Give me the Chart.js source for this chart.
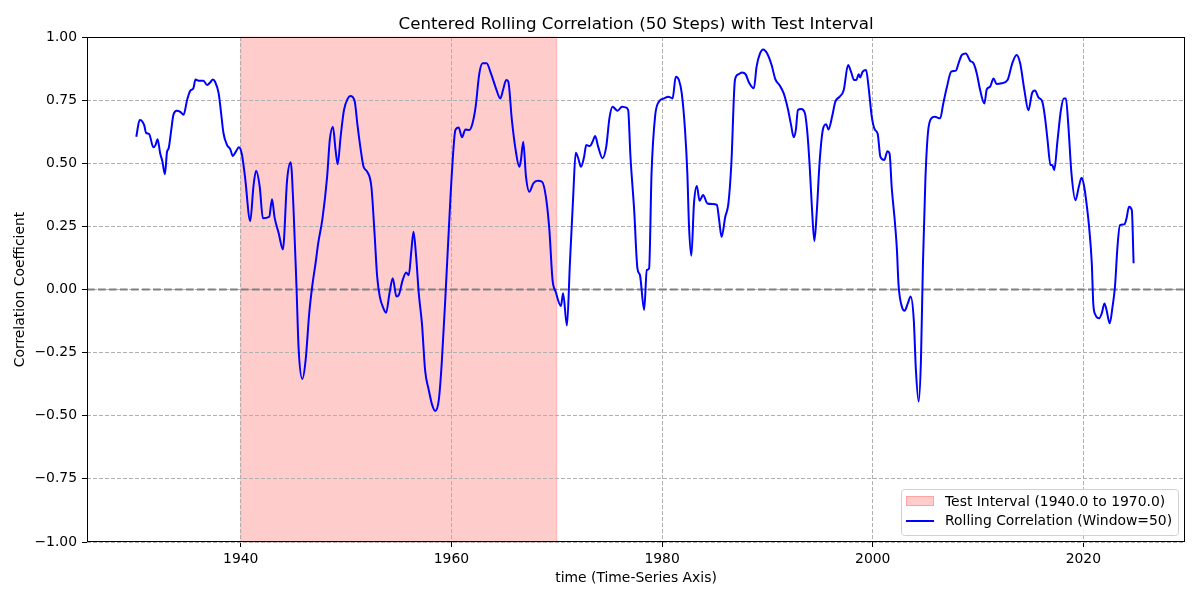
<!DOCTYPE html>
<html>
<head>
<meta charset="utf-8">
<script src="https://cdn.jsdelivr.net/npm/chart.js@4/dist/chart.umd.min.js"></script>
<style>
  html, body { margin: 0; padding: 0; background: #fff; }
  #wrap { width: 1200px; height: 600px; }
</style>
</head>
<body>
<div id="wrap"><canvas id="grafico" width="1200" height="600"></canvas></div>
<script>
// dados
const years = [
  1930.08, 1930.4, 1930.6, 1930.83, 1931.0, 1931.3, 1931.7, 1931.9, 1932.1, 1932.35,
  1932.55, 1932.8, 1933.0, 1933.15, 1933.4, 1933.6, 1933.93, 1934.25, 1934.57, 1934.9,
  1935.2, 1935.5, 1935.7, 1935.99, 1936.46, 1936.8, 1937.1, 1937.35, 1937.56, 1937.9,
  1938.1, 1938.36, 1938.7, 1939.0, 1939.24, 1939.56, 1939.8, 1940.1, 1940.4, 1940.9,
  1941.2, 1941.45, 1941.8, 1942.1, 1942.7, 1942.97, 1943.2, 1943.6, 1944.0, 1944.4,
  1944.74, 1945.0, 1945.3, 1945.5, 1945.85, 1946.16, 1946.5, 1946.8, 1947.1, 1947.35,
  1947.76, 1948.2, 1948.45, 1948.75, 1949.0, 1949.2, 1949.48, 1949.8, 1950.17, 1950.4,
  1950.8, 1951.1, 1951.44, 1951.66, 1952.0, 1952.4, 1952.7, 1952.95, 1953.2, 1953.55,
  1953.8, 1954.12, 1954.43, 1954.78, 1955.0, 1955.38, 1955.7, 1955.95, 1956.2, 1956.4,
  1956.65, 1956.9, 1957.2, 1957.5, 1957.85, 1958.17, 1958.46, 1958.8, 1959.08, 1959.43,
  1959.75, 1960.06, 1960.38, 1960.69, 1961.0, 1961.33, 1961.7, 1962.0, 1962.3, 1962.65,
  1962.97, 1963.34, 1963.75, 1964.23, 1964.64, 1964.9, 1965.2, 1965.4, 1965.74, 1966.1,
  1966.45, 1966.6, 1966.82, 1967.08, 1967.4, 1967.77, 1968.18, 1968.6, 1968.97, 1969.3,
  1969.6, 1969.9, 1970.4, 1970.6, 1970.97, 1971.25, 1971.56, 1971.8, 1972.04, 1972.3,
  1972.6, 1972.8, 1973.15, 1973.4, 1973.65, 1973.93, 1974.34, 1974.7, 1975.0, 1975.3,
  1975.77, 1976.2, 1976.56, 1976.78, 1977.0, 1977.35, 1977.66, 1977.9, 1978.3, 1978.55,
  1978.77, 1979.0, 1979.34, 1979.7, 1980.2, 1980.6, 1981.0, 1981.3, 1981.6, 1981.87,
  1982.18, 1982.4, 1982.56, 1982.78, 1983.03, 1983.3, 1983.56, 1983.9, 1984.3, 1984.77,
  1985.2, 1985.42, 1985.65, 1986.0, 1986.3, 1986.58, 1986.92, 1987.24, 1987.6, 1987.94,
  1988.25, 1988.72, 1988.97, 1989.3, 1989.6, 1989.98, 1990.4, 1990.76, 1991.14, 1991.55,
  1991.97, 1992.25, 1992.5, 1992.7, 1992.9, 1993.2, 1993.55, 1993.77, 1994.0, 1994.24,
  1994.46, 1994.7, 1994.95, 1995.26, 1995.57, 1995.8, 1996.14, 1996.45, 1996.87, 1997.25,
  1997.66, 1997.94, 1998.23, 1998.45, 1998.67, 1998.8, 1999.05, 1999.37, 1999.62, 1999.9,
  2000.18, 2000.47, 2000.73, 2001.1, 2001.4, 2001.6, 2001.8, 2002.12, 2002.3, 2002.45,
  2002.77, 2003.03, 2003.33, 2003.6, 2003.9, 2004.1, 2004.36, 2004.58, 2004.77, 2005.0,
  2005.24, 2005.56, 2005.9, 2006.4, 2006.7, 2007.05, 2007.45, 2007.9, 2008.15, 2008.46,
  2008.84, 2009.25, 2009.57, 2009.88, 2010.2, 2010.6, 2010.83, 2011.14, 2011.47, 2011.76,
  2012.24, 2012.8, 2013.25, 2013.66, 2014.0, 2014.4, 2014.78, 2015.13, 2015.4, 2015.75,
  2016.1, 2016.35, 2016.6, 2016.88, 2017.05, 2017.23, 2017.55, 2017.87, 2018.15, 2018.34,
  2018.56, 2018.87, 2019.25, 2019.57, 2019.83, 2020.05, 2020.3, 2020.57, 2020.8, 2020.94,
  2021.15, 2021.5, 2021.75, 2022.0, 2022.2, 2022.5, 2022.77, 2023.0, 2023.24, 2023.47,
  2023.9, 2024.1, 2024.33, 2024.6, 2024.77
];

const corr = [
  0.605, 0.671, 0.668, 0.651, 0.621, 0.616, 0.563, 0.572, 0.595, 0.539,
  0.509, 0.457, 0.546, 0.559, 0.632, 0.691, 0.708, 0.704, 0.692, 0.75,
  0.787, 0.797, 0.832, 0.827, 0.827, 0.81, 0.82, 0.832, 0.823, 0.777,
  0.711, 0.619, 0.572, 0.556, 0.529, 0.548, 0.563, 0.537, 0.447, 0.271,
  0.407, 0.47, 0.407, 0.282, 0.288, 0.358, 0.288, 0.223, 0.159, 0.434,
  0.504, 0.328, -0.002, -0.24, -0.354, -0.279, -0.094, 0.018, 0.104, 0.183,
  0.282, 0.447, 0.592, 0.645, 0.552, 0.496, 0.605, 0.711, 0.757, 0.766,
  0.748, 0.645, 0.539, 0.486, 0.467, 0.407, 0.223, 0.051, -0.028, -0.075,
  -0.092, -0.015, 0.045, -0.028, -0.022, 0.038, 0.067, 0.057, 0.156, 0.229,
  0.13, -0.015, -0.134, -0.319, -0.398, -0.457, -0.481, -0.438, -0.292, -0.028,
  0.236, 0.473, 0.632, 0.642, 0.603, 0.634, 0.632, 0.658, 0.724, 0.856,
  0.896, 0.896, 0.856, 0.797, 0.757, 0.79, 0.83, 0.823, 0.671, 0.552,
  0.486, 0.513, 0.585, 0.447, 0.387, 0.42, 0.431, 0.427, 0.367, 0.236,
  0.038, -0.009, -0.065, -0.015, -0.143, 0.104, 0.367, 0.542, 0.52, 0.486,
  0.526, 0.572, 0.568, 0.585, 0.608, 0.566, 0.52, 0.566, 0.678, 0.724,
  0.708, 0.724, 0.721, 0.711, 0.526, 0.315, 0.084, 0.057, -0.081, 0.077,
  0.084, 0.46, 0.687, 0.744, 0.757, 0.764, 0.757, 0.843, 0.83, 0.777,
  0.632, 0.46, 0.249, 0.134, 0.341, 0.41, 0.352, 0.374, 0.341, 0.339,
  0.335, 0.275, 0.208, 0.288, 0.341, 0.5, 0.83, 0.852, 0.86, 0.852,
  0.82, 0.797, 0.882, 0.935, 0.951, 0.935, 0.889, 0.832, 0.81, 0.777,
  0.711, 0.651, 0.603, 0.632, 0.711, 0.715, 0.7, 0.632, 0.5, 0.315,
  0.192, 0.315, 0.5, 0.632, 0.655, 0.634, 0.684, 0.744, 0.764, 0.79,
  0.889, 0.863, 0.83, 0.83, 0.853, 0.84, 0.863, 0.869, 0.797, 0.688,
  0.635, 0.617, 0.525, 0.513, 0.548, 0.539, 0.407, 0.26, 0.156, 0.02,
  -0.068, -0.084, -0.055, -0.028, -0.121, -0.319, -0.444, -0.279, 0.104, 0.434,
  0.619, 0.678, 0.684, 0.678, 0.737, 0.803, 0.863, 0.867, 0.896, 0.929,
  0.935, 0.906, 0.896, 0.856, 0.79, 0.737, 0.793, 0.803, 0.836, 0.814,
  0.817, 0.83, 0.896, 0.929, 0.896, 0.79, 0.71, 0.778, 0.788, 0.76,
  0.744, 0.684, 0.592, 0.493, 0.493, 0.473, 0.592, 0.711, 0.757, 0.757,
  0.658, 0.46, 0.354, 0.407, 0.443, 0.414, 0.341, 0.236, 0.104, -0.055,
  -0.101, -0.114, -0.094, -0.055, -0.081, -0.134, -0.068, 0.011, 0.17, 0.255,
  0.258, 0.282, 0.328, 0.315, 0.104
];

const xTicks = [1940, 1960, 1980, 2000, 2020];
const yTicks = [-1, -0.75, -0.5, -0.25, 0, 0.25, 0.5, 0.75, 1];
const testStart = 1940;
const testEnd = 1970;
const janela = 50;

const FONTE = 'DejaVu Sans';
const labelIntervalo = 'Test Interval (' + testStart.toFixed(1) + ' to ' + testEnd.toFixed(1) + ')';
const labelLinha = 'Rolling Correlation (Window=' + janela + ')';

const pontos = years.map((x, i) => ({ x: x, y: corr[i] }));

// faixa do intervalo de teste, linha do zero, moldura e legenda
const fundoPlugin = {
    id: 'fundo',
    beforeDraw(chart) {
        const { ctx, chartArea, scales } = chart;
        const x1 = scales.x.getPixelForValue(testStart);
        const x2 = scales.x.getPixelForValue(testEnd);
        ctx.save();
        ctx.fillStyle = 'rgba(255,0,0,0.2)';
        ctx.fillRect(x1, chartArea.top, x2 - x1, chartArea.bottom - chartArea.top);
        ctx.strokeStyle = 'rgba(255,0,0,0.2)';
        ctx.lineWidth = 1;
        ctx.strokeRect(x1, chartArea.top, x2 - x1, chartArea.bottom - chartArea.top);
        ctx.restore();
    },
    beforeDatasetsDraw(chart) {
        const { ctx, chartArea, scales } = chart;
        const y0 = scales.y.getPixelForValue(0);
        ctx.save();
        ctx.strokeStyle = '#808080';
        ctx.lineWidth = 2;
        ctx.setLineDash([7.7, 3.3]);
        ctx.beginPath();
        ctx.moveTo(chartArea.left, y0);
        ctx.lineTo(chartArea.right, y0);
        ctx.stroke();
        ctx.restore();
    },
    afterDraw(chart) {
        const { ctx, chartArea } = chart;
        ctx.save();
        ctx.strokeStyle = '#000';
        ctx.lineWidth = 1;
        ctx.strokeRect(Math.round(chartArea.left) + 0.5, Math.round(chartArea.top) + 0.5,
            Math.round(chartArea.right - chartArea.left) - 1, Math.round(chartArea.bottom - chartArea.top) - 1);

        // legenda
        const lx = chartArea.right - 284, ly = chartArea.bottom - 53;
        const lw = 277, lh = 46;
        ctx.fillStyle = 'rgba(255,255,255,0.8)';
        ctx.strokeStyle = '#d0d0d0';
        ctx.beginPath();
        ctx.roundRect(lx + 0.5, ly + 0.5, lw, lh, 3);
        ctx.fill();
        ctx.stroke();

        ctx.fillStyle = 'rgba(255,0,0,0.2)';
        ctx.fillRect(lx + 5, ly + 7, 28, 10);
        ctx.strokeStyle = 'rgba(255,0,0,0.2)';
        ctx.strokeRect(lx + 5.5, ly + 7.5, 27, 9);

        ctx.strokeStyle = '#0000ff';
        ctx.lineWidth = 2;
        ctx.beginPath();
        ctx.moveTo(lx + 5, ly + 32);
        ctx.lineTo(lx + 33, ly + 32);
        ctx.stroke();

        ctx.fillStyle = '#000';
        ctx.font = '13.9px "' + FONTE + '"';
        ctx.textAlign = 'left';
        ctx.textBaseline = 'middle';
        ctx.fillText(labelIntervalo, lx + 44, ly + 13);
        ctx.fillText(labelLinha, lx + 44, ly + 32);
        ctx.restore();
    }
};

const ctx = document.getElementById('grafico').getContext('2d');

new Chart(ctx, {
    type: 'line',
    data: {
        datasets: [{
            label: labelLinha,
            data: pontos,
            borderColor: '#0000ff',
            borderWidth: 2,
            pointRadius: 0,
            fill: false,
            cubicInterpolationMode: 'monotone'
        }]
    },
    options: {
        responsive: false,
        animation: false,
        devicePixelRatio: 1,
        layout: {
            padding: { left: 0, right: 15, top: 0, bottom: 0 }
        },
        scales: {
            x: {
                type: 'linear',
                min: 1925.4,
                max: 2029.65,
                afterBuildTicks: (scale) => {
                    scale.ticks = xTicks.map(v => ({ value: v }));
                },
                afterFit: (scale) => { scale.height = 58; },
                ticks: {
                    color: '#000',
                    padding: 4,
                    maxRotation: 0,
                    font: { family: FONTE, size: 13.9 },
                    callback: (v) => String(v)
                },
                grid: {
                    color: '#b0b0b0',
                    lineWidth: 1,
                    tickColor: '#000',
                    tickLength: 5,
                    tickWidth: 1
                },
                border: { display: false, dash: [4, 2] },
                title: {
                    display: true,
                    text: 'time (Time-Series Axis)',
                    color: '#000',
                    font: { family: FONTE, size: 13.9 },
                    padding: { top: 0, bottom: 13.5 }
                }
            },
            y: {
                min: -1,
                max: 1,
                afterBuildTicks: (scale) => {
                    scale.ticks = yTicks.map(v => ({ value: v }));
                },
                afterFit: (scale) => { scale.width = 87; },
                ticks: {
                    color: '#000',
                    padding: 5,
                    font: { family: FONTE, size: 13.9 },
                    callback: (v) => Number(v).toFixed(2).replace('-', '\u2212')
                },
                grid: {
                    color: '#b0b0b0',
                    lineWidth: 1,
                    tickColor: '#000',
                    tickLength: 5,
                    tickWidth: 1
                },
                border: { display: false, dash: [4, 2] },
                title: {
                    display: true,
                    text: 'Correlation Coefficient',
                    color: '#000',
                    font: { family: FONTE, size: 13.9 },
                    padding: { top: 12.5, bottom: 0 }
                }
            }
        },
        plugins: {
            legend: { display: false },
            tooltip: { enabled: false },
            title: {
                display: true,
                fullSize: false,
                text: 'Centered Rolling Correlation (' + janela + ' Steps) with Test Interval',
                color: '#000',
                font: { family: FONTE, size: 16.7, weight: 'normal' },
                padding: { top: 15, bottom: 2 }
            }
        }
    },
    plugins: [fundoPlugin]
});
</script>
</body>
</html>
